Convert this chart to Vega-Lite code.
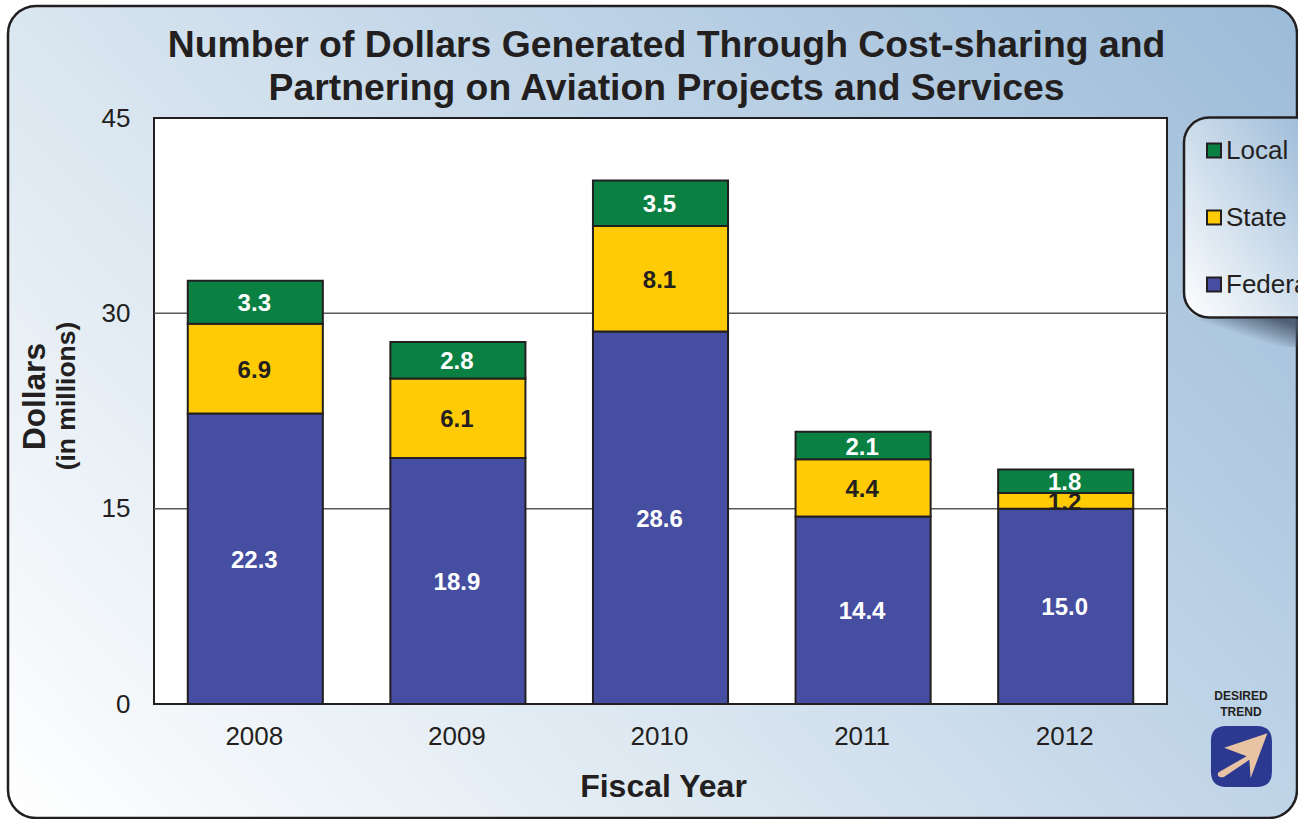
{
  "$schema": "https://vega.github.io/schema/vega-lite/v6.json",
  "width": 1289,
  "height": 812,
  "autosize": "none",
  "padding": {"left": 8, "top": 6, "right": 1, "bottom": 1},
  "background": "#ffffff",
  "title": {
    "text": ["Number of Dollars Generated Through Cost-sharing and", "Partnering on Aviation Projects and Services"],
    "font": "Liberation Sans", "fontSize": 37.35, "fontWeight": "bold", "color": "#231f20",
    "anchor": "middle", "lineHeight": 43, "baseline": "alphabetic", "dx": 14, "dy": 131, "offset": 0
  },
  "config": {
    "font": "Liberation Sans",
    "view": {
      "cornerRadius": 28, "stroke": "#231f20", "strokeWidth": 2.5,
      "fill": {"gradient": "linear", "x1": 0, "y1": 1, "x2": 1.176, "y2": 0.294,
        "stops": [{"offset": 0, "color": "#ffffff"}, {"offset": 0.374, "color": "#dae6f0"}, {"offset": 0.625, "color": "#bfd4e7"}, {"offset": 1, "color": "#9cbbd8"}]}
    },
    "legend": {
      "strokeWidth": 2.5
    }
  },
  "resolve": {"scale": {"x": "independent"}, "axis": {"x": "independent", "y": "independent"}},
  "layer": [
    {
      "resolve": {"axis": {"y": "independent", "x": "independent"}},
      "layer": [
        {
          "data": {"values": [{"panel": "plot"}]},
          "mark": {"type": "rect", "fill": "#ffffff", "stroke": "#231f20", "strokeWidth": 2},
          "encoding": {
            "x": {"datum": 0, "type": "quantitative", "axis": null, "scale": {"domain": [0, 1], "range": [146, 1159]}},
            "x2": {"datum": 1},
            "y": {"datum": 0, "type": "quantitative", "scale": {"domain": [0, 45], "range": [698, 112], "nice": false},
              "axis": {"values": [0, 15, 30, 45], "orient": "left", "offset": -146, "grid": false, "domain": false, "ticks": false,
                "labelFontSize": 26, "labelColor": "#231f20", "labelPadding": 24, "labelFont": "Liberation Sans", "labelOverlap": false, "labelFlush": false,
                "title": "Dollars", "titleFontSize": 31.5, "titleFontWeight": "bold", "titleColor": "#231f20", "titleAngle": 270,
                "titleX": -119, "titleY": 390, "titleAlign": "center", "titleBaseline": "middle"}},
            "y2": {"datum": 45}
          }
        },
        {
          "data": {"values": [{"level": 15}, {"level": 30}]},
          "mark": {"type": "rule", "stroke": "#58595b", "strokeWidth": 1.5},
          "encoding": {
            "x": {"datum": 0, "type": "quantitative", "axis": null},
            "x2": {"datum": 1},
            "y": {"field": "level", "type": "quantitative", "axis": null}
          }
        },
        {
          "data": {"values": [{"label": "(in millions)"}]},
          "mark": {"type": "text", "angle": 270, "fontSize": 26.5, "fontWeight": "bold", "color": "#231f20", "align": "center", "baseline": "middle"},
          "encoding": {
            "x": {"datum": -0.086, "type": "quantitative", "axis": null},
            "y": {"datum": 23.65, "type": "quantitative", "axis": null},
            "text": {"field": "label"}
          }
        },
        {
          "data": {"values": [{"label": "DESIRED"}]},
          "mark": {"type": "text", "fontSize": 12, "fontWeight": "bold", "color": "#231f20", "align": "center", "baseline": "middle"},
          "encoding": {
            "x": {"datum": 1.073, "type": "quantitative", "axis": null},
            "y": {"datum": 0.61, "type": "quantitative", "axis": null},
            "text": {"field": "label"}
          }
        },
        {
          "data": {"values": [{"label": "TREND"}]},
          "mark": {"type": "text", "fontSize": 12, "fontWeight": "bold", "color": "#231f20", "align": "center", "baseline": "middle"},
          "encoding": {
            "x": {"datum": 1.073, "type": "quantitative", "axis": null},
            "y": {"datum": -0.61, "type": "quantitative", "axis": null},
            "text": {"field": "label"}
          }
        },
        {
          "data": {"values": [{"icon": "trend box"}]},
          "mark": {"type": "point", "filled": true, "opacity": 1, "fill": "#2b3990", "strokeWidth": 0, "size": 3721,
            "shape": "M-0.5 -1 H0.5 Q1 -1 1 -0.5 V0.5 Q1 1 0.5 1 H-0.5 Q-1 1 -1 0.5 V-0.5 Q-1 -1 -0.5 -1 Z"},
          "encoding": {
            "x": {"datum": 1.0735, "type": "quantitative", "axis": null},
            "y": {"datum": -4.03, "type": "quantitative", "axis": null}
          }
        },
        {
          "data": {"values": [{"icon": "trend arrow"}]},
          "mark": {"type": "point", "filled": true, "opacity": 1, "fill": "#e8c3a4", "strokeWidth": 0, "size": 3721,
            "shape": "M0.85 -0.76 L-0.565 -0.29 L0.17 -0.01 L-0.75 0.52 Q-0.85 0.68 -0.59 0.68 L0.26 0.11 L0.3 0.71 Z"},
          "encoding": {
            "x": {"datum": 1.0735, "type": "quantitative", "axis": null},
            "y": {"datum": -4.03, "type": "quantitative", "axis": null}
          }
        },
        {
          "data": {"values": [{"shadow": "legend"}]},
          "mark": {"type": "point", "filled": true, "opacity": 1, "strokeWidth": 0, "size": 19600,
            "shape": "M-1 -0.2 H1 V0.2 H-1 Z",
            "fill": {"gradient": "linear", "x1": 0.6, "y1": 0, "x2": 0.159, "y2": 0.265,
              "stops": [{"offset": 0, "color": "rgba(70,85,105,0.9)"}, {"offset": 1, "color": "rgba(70,85,105,0)"}]}},
          "encoding": {
            "x": {"datum": 1.095, "type": "quantitative", "axis": null},
            "y": {"datum": 28.5, "type": "quantitative", "axis": null}
          }
        },
        {
          "data": {"values": [{"panel": "legend fill"}]},
          "mark": {"type": "point", "filled": true, "opacity": 1, "strokeWidth": 0, "size": 57600,
            "shape": "M-0.357 -0.8375 H0.567 V0.8375 H-0.357 Q-0.567 0.8375 -0.567 0.6275 V-0.6275 Q-0.567 -0.8375 -0.357 -0.8375 Z",
            "fill": {"gradient": "linear", "x1": 0, "y1": 1, "x2": 1, "y2": 0,
              "stops": [{"offset": 0, "color": "#ffffff"}, {"offset": 1, "color": "#98b8d6"}]}},
          "encoding": {
            "x": {"datum": 1.0839, "type": "quantitative", "axis": null},
            "y": {"datum": 37.36, "type": "quantitative", "axis": null}
          }
        }
      ]
    },
    {
      "data": {"values": [
        {"year": 2008, "series": "Federal", "value": 22.3},
        {"year": 2008, "series": "State", "value": 6.9},
        {"year": 2008, "series": "Local", "value": 3.3},
        {"year": 2009, "series": "Federal", "value": 18.9},
        {"year": 2009, "series": "State", "value": 6.1},
        {"year": 2009, "series": "Local", "value": 2.8},
        {"year": 2010, "series": "Federal", "value": 28.6},
        {"year": 2010, "series": "State", "value": 8.1},
        {"year": 2010, "series": "Local", "value": 3.5},
        {"year": 2011, "series": "Federal", "value": 14.4},
        {"year": 2011, "series": "State", "value": 4.4},
        {"year": 2011, "series": "Local", "value": 2.1},
        {"year": 2012, "series": "Federal", "value": 15.0},
        {"year": 2012, "series": "State", "value": 1.2},
        {"year": 2012, "series": "Local", "value": 1.8}
      ]},
      "transform": [
        {"stack": "value", "groupby": ["year"], "as": ["y0", "y1"]},
        {"calculate": "(datum.y0 + datum.y1) / 2", "as": "mid"}
      ],
      "encoding": {
        "x": {"field": "year", "type": "ordinal",
          "scale": {"range": [146, 1159], "paddingInner": 0.3333, "paddingOuter": 0.16667},
          "axis": {"orient": "bottom", "offset": -114, "labelAngle": 0, "domain": false, "ticks": false, "grid": false,
            "labelFontSize": 26, "labelColor": "#231f20", "labelPadding": 19, "labelOffset": -1,
            "title": "Fiscal Year", "titleFontSize": 32, "titleFontWeight": "bold", "titleColor": "#231f20",
            "titleX": 655, "titleY": 82, "titleAlign": "center", "titleBaseline": "middle"}}
      },
      "layer": [
        {
          "mark": {"type": "bar", "stroke": "#231f20", "strokeWidth": 2},
          "encoding": {
            "y": {"field": "y0", "type": "quantitative", "axis": null, "stack": null},
            "y2": {"field": "y1"},
            "fill": {"field": "series", "type": "nominal",
              "scale": {"domain": ["Local", "State", "Federal"], "range": ["#0a8043", "#fecb05", "#454ea0"]},
              "legend": {"orient": "none", "legendX": 1176, "legendY": 111.5, "title": null,
                "cornerRadius": 25, "strokeColor": "#231f20", "padding": 20,
                "symbolType": "square", "symbolSize": 196, "symbolStrokeColor": "#231f20", "symbolStrokeWidth": 2, "symbolOffset": -3,
                "labelFontSize": 26, "labelColor": "#231f20", "labelOffset": -1, "rowPadding": 41, "labelFont": "Liberation Sans"}}
          }
        },
        {
          "mark": {"type": "text", "fontSize": 24, "fontWeight": "bold", "align": "center", "baseline": "middle", "dy": 2, "dx": -1},
          "encoding": {
            "y": {"field": "mid", "type": "quantitative", "axis": null},
            "text": {"field": "value", "type": "quantitative", "format": ".1f"},
            "color": {"condition": {"test": "datum.series === 'State'", "value": "#231f20"}, "value": "#ffffff"}
          }
        }
      ]
    }
  ]
}
